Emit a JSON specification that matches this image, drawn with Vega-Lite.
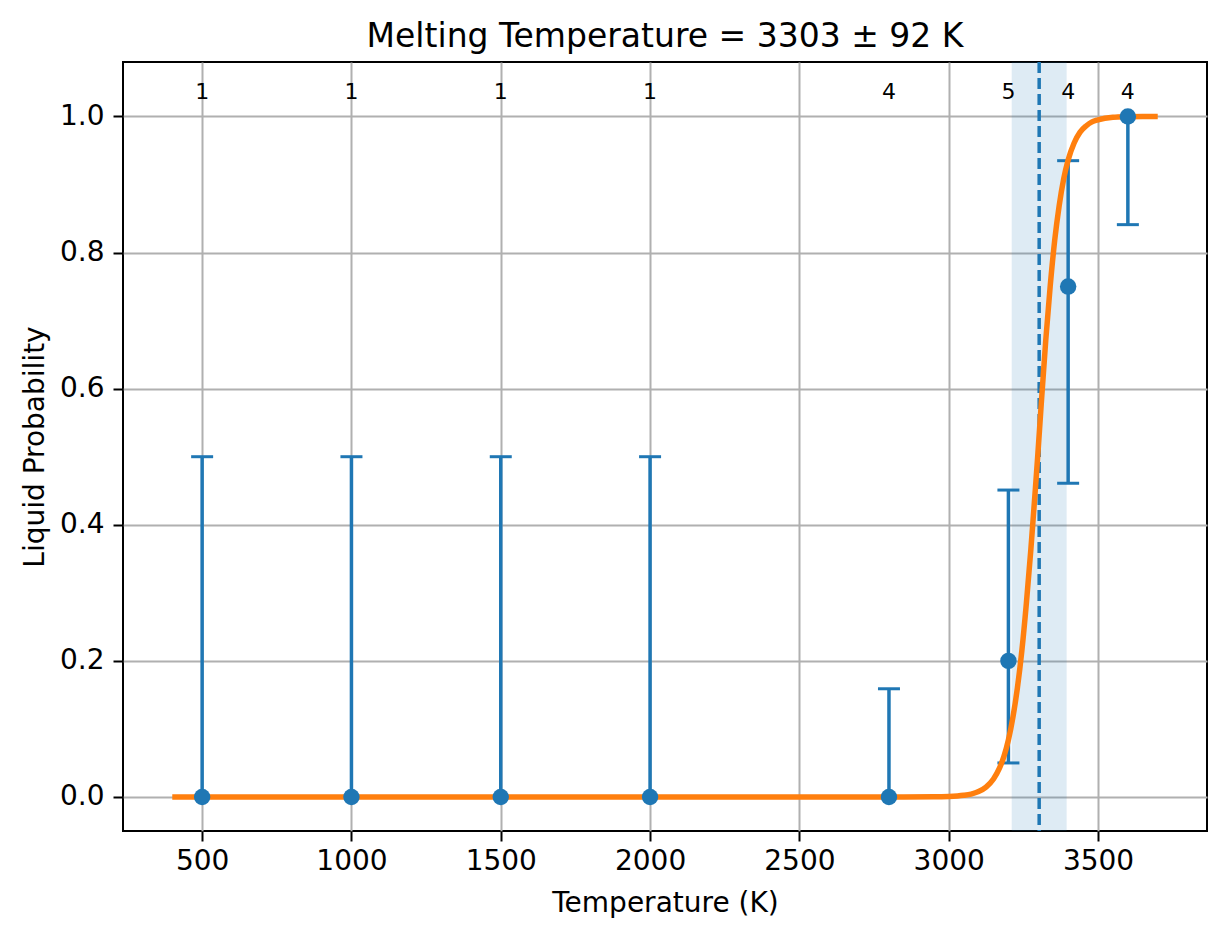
{
  "$schema": "https://vega.github.io/schema/vega-lite/v6.json",
  "width": 1084,
  "height": 769,
  "autosize": "none",
  "padding": {"left": 123, "top": 62, "right": 20, "bottom": 108},
  "background": "white",
  "title": {
    "text": "Melting Temperature = 3303 ± 92 K",
    "font": "DejaVu Sans",
    "fontSize": 33,
    "fontWeight": "normal",
    "color": "black",
    "anchor": "middle",
    "baseline": "alphabetic",
    "offset": -20
  },
  "datasets": {
    "obs": [
      {"T": 500, "p": 0.0, "lo": 0.0, "hi": 0.5, "n": 1},
      {"T": 1000, "p": 0.0, "lo": 0.0, "hi": 0.5, "n": 1},
      {"T": 1500, "p": 0.0, "lo": 0.0, "hi": 0.5, "n": 1},
      {"T": 2000, "p": 0.0, "lo": 0.0, "hi": 0.5, "n": 1},
      {"T": 2800, "p": 0.0, "lo": 0.0, "hi": 0.159, "n": 4},
      {"T": 3200, "p": 0.2, "lo": 0.05, "hi": 0.451, "n": 5},
      {"T": 3400, "p": 0.75, "lo": 0.461, "hi": 0.935, "n": 4},
      {"T": 3600, "p": 1.0, "lo": 0.841, "hi": 1.0, "n": 4}
    ],
    "fit": [
      {"T": 400, "p": 0.0},
      {"T": 2700, "p": 0.0},
      {"T": 2850, "p": 0.0001},
      {"T": 2950, "p": 0.0002},
      {"T": 3000, "p": 0.0007},
      {"T": 3050, "p": 0.0024},
      {"T": 3075, "p": 0.0043},
      {"T": 3100, "p": 0.0079},
      {"T": 3125, "p": 0.0145},
      {"T": 3150, "p": 0.0264},
      {"T": 3170, "p": 0.0423},
      {"T": 3185, "p": 0.0596},
      {"T": 3200, "p": 0.0839},
      {"T": 3215, "p": 0.117},
      {"T": 3230, "p": 0.16},
      {"T": 3245, "p": 0.215},
      {"T": 3260, "p": 0.284},
      {"T": 3275, "p": 0.363},
      {"T": 3290, "p": 0.451},
      {"T": 3298, "p": 0.5},
      {"T": 3310, "p": 0.578},
      {"T": 3325, "p": 0.671},
      {"T": 3340, "p": 0.751},
      {"T": 3355, "p": 0.818},
      {"T": 3370, "p": 0.869},
      {"T": 3385, "p": 0.908},
      {"T": 3400, "p": 0.936},
      {"T": 3420, "p": 0.961},
      {"T": 3440, "p": 0.977},
      {"T": 3460, "p": 0.986},
      {"T": 3480, "p": 0.992},
      {"T": 3500, "p": 0.995},
      {"T": 3550, "p": 0.9987},
      {"T": 3600, "p": 0.9996},
      {"T": 3650, "p": 1.0},
      {"T": 3700, "p": 1.0}
    ],
    "band": [{"lo": 3211, "hi": 3395, "tm": 3303}]
  },
  "encoding": {
    "x": {
      "type": "quantitative",
      "scale": {"domain": [235, 3865], "nice": false, "zero": false},
      "axis": {
        "title": "Temperature (K)",
        "values": [500, 1000, 1500, 2000, 2500, 3000, 3500],
        "format": "d",
        "labelPadding": 6,
        "titlePadding": 14
      }
    },
    "y": {
      "type": "quantitative",
      "scale": {"domain": [-0.05, 1.08], "nice": false, "zero": false},
      "axis": {
        "title": "Liquid Probability",
        "values": [0, 0.2, 0.4, 0.6, 0.8, 1.0],
        "format": ".1f",
        "labelPadding": 9,
        "titlePadding": 10
      }
    }
  },
  "layer": [
    {
      "data": {"name": "band"},
      "mark": {"type": "rect", "color": "#1f77b4", "opacity": 0.15},
      "encoding": {"x": {"field": "lo"}, "x2": {"field": "hi"}}
    },
    {
      "data": {"name": "obs"},
      "mark": {"type": "rule", "color": "#1f77b4", "strokeWidth": 3.5},
      "encoding": {"x": {"field": "T"}, "y": {"field": "lo"}, "y2": {"field": "hi"}}
    },
    {
      "data": {"name": "obs"},
      "mark": {"type": "tick", "orient": "horizontal", "color": "#1f77b4", "size": 22, "thickness": 3, "opacity": 1},
      "encoding": {"x": {"field": "T"}, "y": {"field": "hi"}}
    },
    {
      "data": {"name": "obs"},
      "mark": {"type": "tick", "orient": "horizontal", "color": "#1f77b4", "size": 22, "thickness": 3, "opacity": 1},
      "encoding": {"x": {"field": "T"}, "y": {"field": "lo"}}
    },
    {
      "data": {"name": "band"},
      "mark": {"type": "rule", "color": "#1f77b4", "strokeWidth": 3.5, "strokeDash": [11, 5]},
      "encoding": {"x": {"field": "tm"}}
    },
    {
      "data": {"name": "fit"},
      "mark": {"type": "line", "color": "#ff7f0e", "strokeWidth": 5.5, "interpolate": "monotone"},
      "encoding": {"x": {"field": "T"}, "y": {"field": "p"}}
    },
    {
      "data": {"name": "obs"},
      "mark": {"type": "circle", "color": "#1f77b4", "size": 270, "opacity": 1},
      "encoding": {"x": {"field": "T"}, "y": {"field": "p"}}
    },
    {
      "data": {"name": "obs"},
      "mark": {"type": "text", "font": "DejaVu Sans", "fontSize": 22, "color": "black", "align": "center", "baseline": "alphabetic"},
      "encoding": {"x": {"field": "T"}, "y": {"datum": 1.026}, "text": {"field": "n"}}
    }
  ],
  "config": {
    "view": {"stroke": "black", "strokeWidth": 2},
    "axis": {
      "labelFont": "DejaVu Sans",
      "labelFontSize": 28,
      "labelColor": "black",
      "titleFont": "DejaVu Sans",
      "titleFontSize": 28,
      "titleFontWeight": "normal",
      "titleColor": "black",
      "domain": false,
      "tickColor": "black",
      "tickWidth": 2,
      "tickSize": 10,
      "grid": true,
      "gridColor": "#b0b0b0",
      "gridWidth": 2,
      "gridOpacity": 1
    }
  }
}
